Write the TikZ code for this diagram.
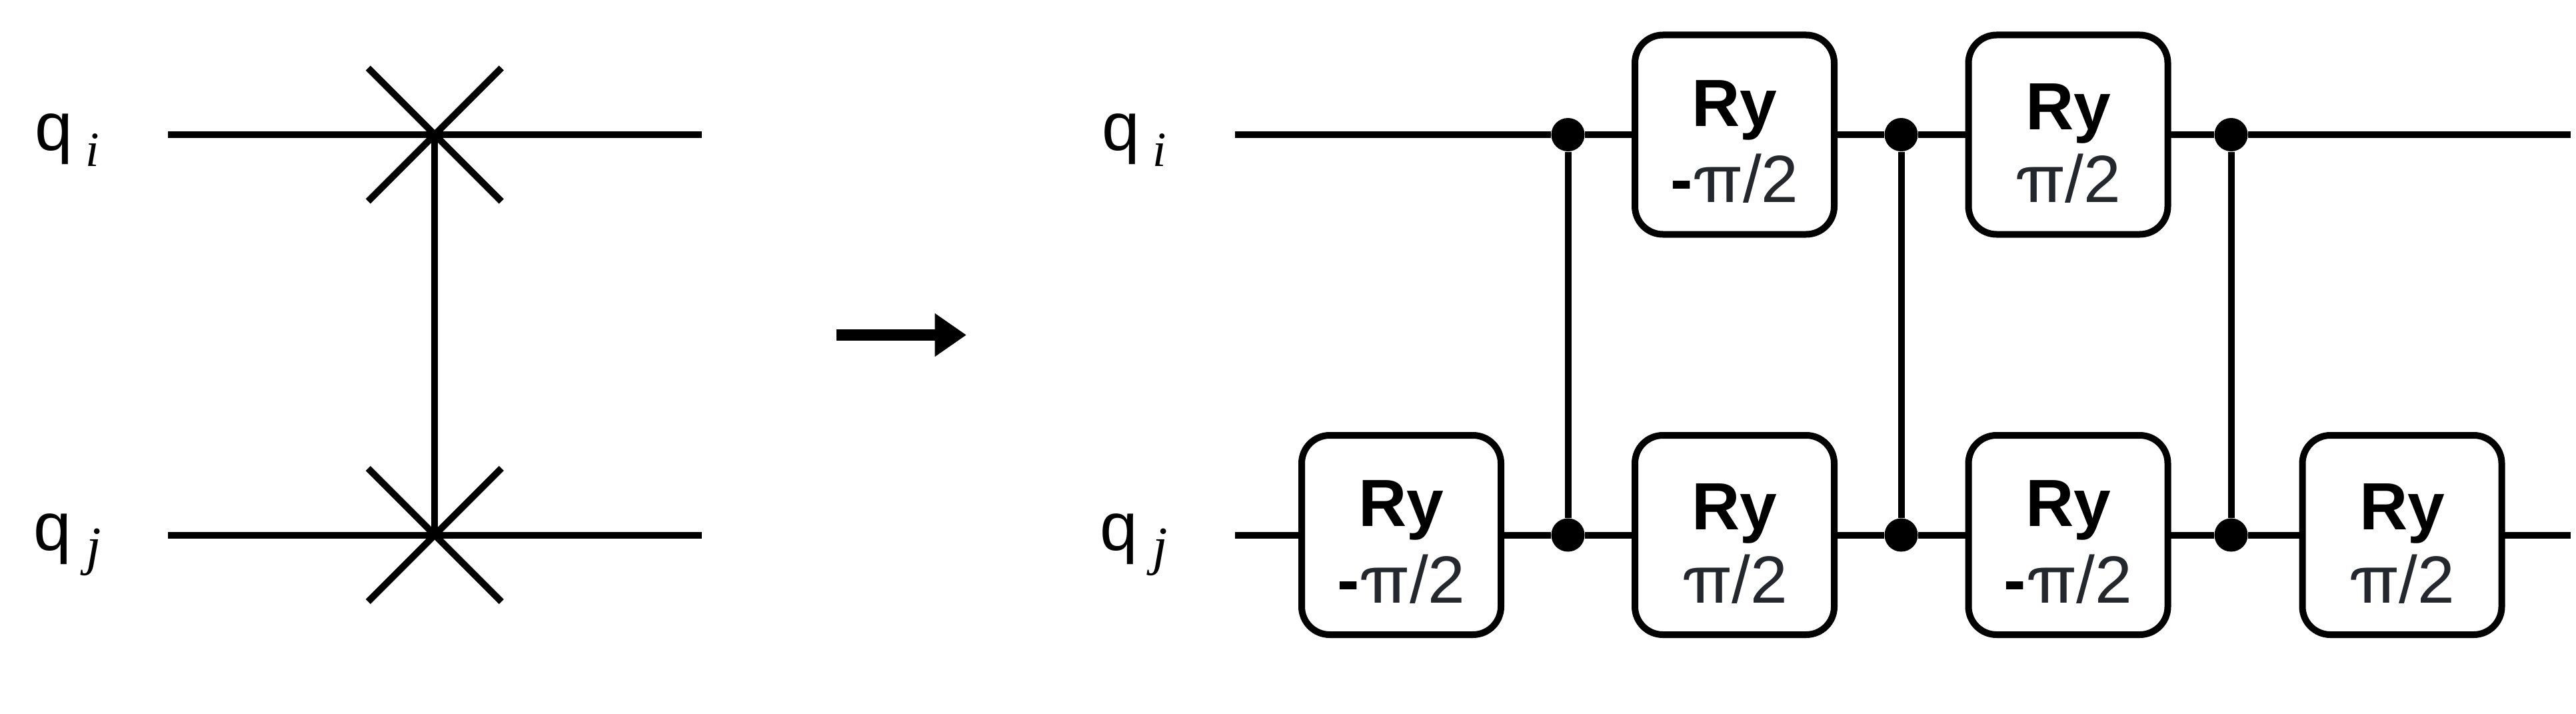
\documentclass[tikz,border=0pt]{standalone}
\usepackage{fontspec}
\setmainfont{Liberation Sans}
\newfontfamily\subfont{Liberation Serif}
\newfontfamily\pifont[FakeStretch=1.12]{TeX Gyre Heros}
\usepackage{tikz}
\usetikzlibrary{arrows.meta,positioning}
\definecolor{gatetext}{HTML}{24272C}
\newcommand{\halfpi}{\textcolor{gatetext}{{\pifont π}/2}}
\newcommand{\gatehalf}{\rule{0pt}{0.95cm}\textbf{Ry}\\[1.27pt]\halfpi}
\newcommand{\gateminus}{\rule{0pt}{0.90cm}\textbf{Ry}\\[2.69pt]\textbf{-}\halfpi}
\newcommand{\subi}{q\hspace{0.19cm}\raisebox{-0.25cm}{\subfont\fontsize{21}{21}\selectfont\textit{i}}}
\newcommand{\subj}{q\hspace{0.22cm}\raisebox{-0.21cm}{\subfont\fontsize{23}{23}\selectfont\textit{j}}}
\tikzset{
    wire/.style={
                line width=0.10cm,
                black
            },
        gate/.style={
                draw=black,
                line width=0.10cm,
                fill=white,
                rounded corners=0.42cm,
                minimum width=2.99cm,
                minimum height=2.99cm,
                inner sep=0pt,
                outer sep=0pt,
                align=center,
                font=\fontsize{28.5}{30}\selectfont
            },
        ctrl/.style={
                circle,
                fill=black,
                inner sep=0pt,
                minimum size=0.5cm
            },
        qlabel/.style={
                anchor=base west,
                inner sep=0pt,
                font=\fontsize{29}{30}\selectfont
            },
}
\begin{document}
\begin{tikzpicture}
  \useasboundingbox (0,0) rectangle (38.65,10.70);
  % Swap
  \coordinate (lefti) at (2.52,8.68);
  \coordinate (righti) at (10.53,8.68);
  \coordinate (leftj) at (2.52,2.675);
  \coordinate (rightj) at (10.53,2.675);
  \coordinate (swapi) at (6.523,8.68);
  \coordinate (swapj) at (6.523,2.675);
  \node[qlabel] (namei) at (0.52,8.45) {\subi};
  \node[qlabel] (namej) at (0.50,2.45) {\subj};
  \draw[wire] (lefti) -- (righti);
  \draw[wire] (leftj) -- (rightj);
  \draw[wire] (swapi) -- (swapj);
  \foreach \c in {swapi,swapj}{
      \draw[wire] (\c) ++(-1.0,1.0) -- ++(2.0,-2.0);
      \draw[wire] (\c) ++(-1.0,-1.0) -- ++(2.0,2.0);
    }
  % Arrow
  \coordinate (arrowa) at (12.55,5.675);
  \coordinate (arrowb) at (14.50,5.675);
  \draw[line width=0.165cm,-{Triangle[length=0.475cm,width=0.62cm]}] (arrowa) -- (arrowb);
  % Decomposition
  \coordinate (starti) at (18.525,8.68);
  \coordinate (endi) at (38.57,8.68);
  \coordinate (startj) at (18.525,2.675);
  \coordinate (endj) at (38.57,2.675);
  \node[qlabel] (outi) at (16.53,8.45) {\subi};
  \node[qlabel] (outj) at (16.50,2.45) {\subj};
  \node[gate] (gja) at (21.025,2.675) {\gateminus};
  \node[ctrl] (cja) at (23.525,2.675) {};
  \node[ctrl] (cia) at (23.525,8.68) {};
  \node[gate] (gib) at (26.025,8.68) {\gateminus};
  \node[gate] (gjb) at (26.025,2.675) {\gatehalf};
  \node[ctrl] (cjb) at (28.525,2.675) {};
  \node[ctrl] (cib) at (28.525,8.68) {};
  \node[gate] (gic) at (31.03,8.68) {\gatehalf};
  \node[gate] (gjc) at (31.03,2.675) {\gateminus};
  \node[ctrl] (cjc) at (33.475,2.675) {};
  \node[ctrl] (cic) at (33.475,8.68) {};
  \node[gate] (gjd) at (36.04,2.675) {\gatehalf};
  \draw[wire] (starti) -- (cia) -- (gib) -- (cib) -- (gic) -- (cic) -- (endi);
  \draw[wire] (startj) -- (gja) -- (cja) -- (gjb) -- (cjb) -- (gjc) -- (cjc) -- (gjd) -- (endj);
  \draw[wire] (cia) -- (cja);
  \draw[wire] (cib) -- (cjb);
  \draw[wire] (cic) -- (cjc);
\end{tikzpicture}
\end{document}
